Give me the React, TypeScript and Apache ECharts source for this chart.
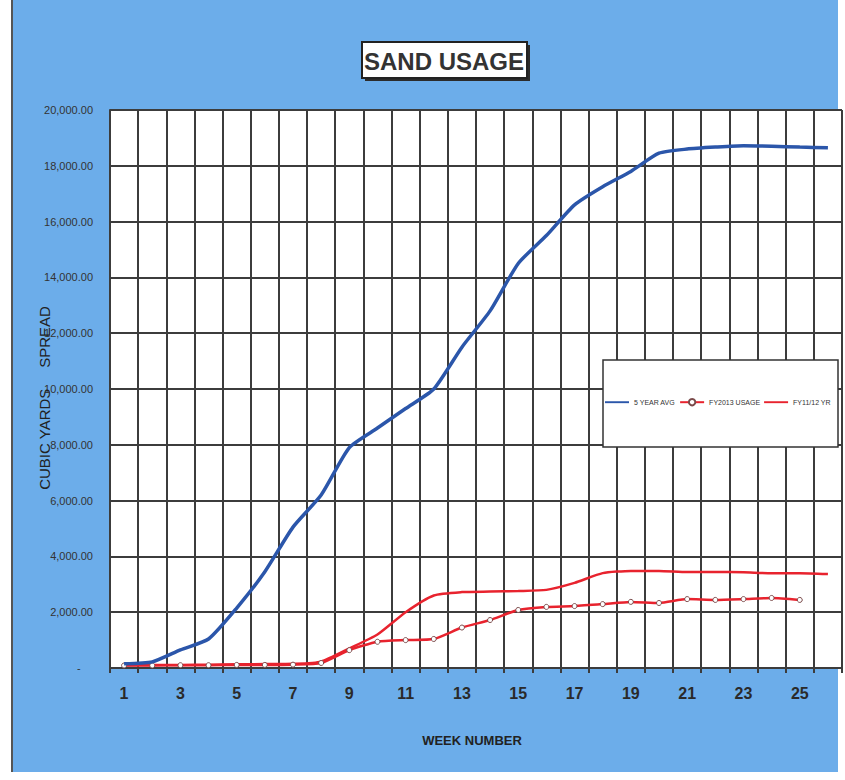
import React, { useEffect, useRef } from "react";
import * as echarts from "echarts";

const weeks = Array.from({ length: 26 }, (_, i) => String(i + 1));

const fiveYearAvg = [
  150, 220, 650, 1040, 2150, 3450, 5050, 6200, 7900, 8600, 9300, 10000, 11500,
  12800, 14500, 15500, 16600, 17250, 17800, 18450, 18600, 18670, 18720, 18700,
  18670, 18650,
];

const fy2013Usage = [
  90, 90, 100, 100, 110, 110, 120, 180, 640, 940, 1000, 1040, 1450, 1720, 2080,
  2190, 2220, 2290, 2370, 2330, 2470, 2440, 2470, 2510, 2440, null,
];

const priorYear = [
  100, 110, 110, 120, 130, 140, 150, 230, 700, 1200, 2000, 2600, 2720, 2740,
  2760, 2800, 3050, 3400, 3480, 3480, 3440, 3440, 3430, 3400, 3400, 3370,
];

const seriesNames = ["5 YEAR AVG", "FY2013 USAGE", "FY11/12 YR"];

const yMin = 0;
const yMax = 20000;
const yInterval = 2000;

const GRID_DARK = "#3c3c3c";
const BLUE_BG = "#6cadea";
const LINE_ICON = "path://M0,0L100,0L100,8L0,8Z";

export default function App() {
  const ref = useRef<HTMLDivElement>(null);

  useEffect(() => {
    if (!ref.current) return;
    const chart = echarts.init(ref.current, undefined, { renderer: "svg" });
    chart.setOption({
      animation: false,
      backgroundColor: "#ffffff",
      textStyle: { fontFamily: "Liberation Sans, Arial, sans-serif" },
      grid: {
        left: 110,
        top: 110,
        width: 732,
        height: 558,
        show: true,
        backgroundColor: "#ffffff",
        borderWidth: 0,
        containLabel: false,
      },
      graphic: [
        {
          type: "rect",
          z: -10,
          shape: { x: 12, y: 0, width: 826, height: 772 },
          style: { fill: BLUE_BG },
          silent: true,
        },
        {
          type: "line",
          z: -9,
          shape: { x1: 12, y1: 0, x2: 12, y2: 772 },
          style: { stroke: "#555", lineWidth: 2 },
          silent: true,
        },
        {
          type: "rect",
          z: 50,
          shape: { x: 365, y: 45, width: 165, height: 36 },
          style: { fill: "#2b2b2b" },
        },
        {
          type: "rect",
          z: 51,
          shape: { x: 362, y: 42, width: 165, height: 36 },
          style: { fill: "#ffffff", stroke: "#222", lineWidth: 2 },
        },
        {
          type: "text",
          z: 52,
          x: 444,
          y: 61,
          style: {
            text: "SAND USAGE",
            fontSize: 24,
            fontWeight: "bold",
            fontFamily: "Liberation Sans Narrow, Liberation Sans, Arial, sans-serif",
            fill: "#333",
            align: "center",
            verticalAlign: "middle",
          },
        },
        {
          type: "rect",
          z: 30,
          shape: { x: 603, y: 360, width: 235, height: 87 },
          style: { fill: "#ffffff", stroke: "#333", lineWidth: 1.5 },
        },
        {
          type: "text",
          z: 40,
          x: 472,
          y: 740,
          style: {
            text: "WEEK NUMBER",
            fontSize: 13,
            fontWeight: "bold",
            fontFamily: "Liberation Sans Narrow, Liberation Sans, Arial, sans-serif",
            fill: "#222",
            align: "center",
            verticalAlign: "middle",
          },
        },
        {
          type: "text",
          z: 40,
          x: 44,
          y: 398,
          rotation: Math.PI / 2,
          style: {
            text: "CUBIC YARDS     SPREAD",
            fontSize: 15,
            fontFamily: "Liberation Sans Narrow, Liberation Sans, Arial, sans-serif",
            fill: "#222",
            align: "center",
            verticalAlign: "middle",
          },
        },
      ],
      legend: {
        z: 35,
        left: 605,
        top: 398,
        width: 240,
        padding: 0,
        itemWidth: 24,
        itemHeight: 8,
        itemGap: 4,
        textStyle: { fontSize: 7, color: "#333" },
        data: [
          { name: seriesNames[0], icon: LINE_ICON },
          { name: seriesNames[1] },
          { name: seriesNames[2], icon: LINE_ICON },
        ],
      },
      xAxis: {
        type: "category",
        data: weeks,
        boundaryGap: true,
        axisLine: { show: true, lineStyle: { color: GRID_DARK, width: 2 } },
        axisTick: {
          show: true,
          interval: 0,
          length: 5,
          lineStyle: { color: GRID_DARK, width: 2 },
        },
        splitLine: {
          show: true,
          interval: 0,
          lineStyle: { color: GRID_DARK, width: 2 },
        },
        axisLabel: {
          interval: 1,
          margin: 17,
          fontSize: 16,
          fontWeight: "bold",
          color: "#2a2a2a",
          fontFamily: "Liberation Sans Narrow, Liberation Sans, Arial, sans-serif",
        },
      },
      yAxis: {
        type: "value",
        min: yMin,
        max: yMax,
        interval: yInterval,
        axisLine: { show: true, lineStyle: { color: GRID_DARK, width: 2 } },
        axisTick: { show: false },
        splitLine: { show: true, lineStyle: { color: GRID_DARK, width: 2 } },
        axisLabel: {
          margin: 17,
          fontSize: 11,
          color: "#333",
          formatter: (v: number) =>
            v === 0
              ? "-    "
              : v.toLocaleString("en-US", {
                  minimumFractionDigits: 2,
                  maximumFractionDigits: 2,
                }),
        },
      },
      series: [
        {
          name: seriesNames[0],
          type: "line",
          data: fiveYearAvg,
          smooth: 0.2,
          showSymbol: false,
          symbol: "none",
          z: 5,
          lineStyle: { color: "#2b56aa", width: 3.5 },
          itemStyle: { color: "#2b56aa" },
        },
        {
          name: seriesNames[1],
          type: "line",
          data: fy2013Usage,
          smooth: 0.2,
          symbol: "circle",
          symbolSize: 5,
          z: 4,
          lineStyle: { color: "#e8232e", width: 2.5 },
          itemStyle: { color: "#ffffff", borderColor: "#7a4a4a", borderWidth: 1 },
        },
        {
          name: seriesNames[2],
          type: "line",
          data: priorYear,
          smooth: 0.2,
          showSymbol: false,
          symbol: "none",
          z: 3,
          lineStyle: { color: "#e8232e", width: 2.5 },
          itemStyle: { color: "#e8232e" },
        },
      ],
    });
    return () => chart.dispose();
  }, []);

  return (
    <div
      ref={ref}
      style={{ position: "absolute", left: 0, top: 0, width: 845, height: 780 }}
    />
  );
}
